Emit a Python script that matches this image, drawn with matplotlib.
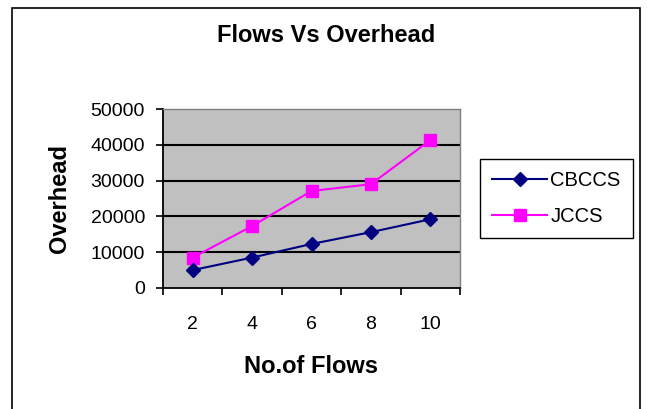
import matplotlib.pyplot as plt
from matplotlib.patches import Rectangle
import numpy as np

flows = ['2', '4', '6', '8', '10']
cbccs = [5000, 8500, 12300, 15600, 19200]
jccs = [8500, 17300, 27100, 29000, 41300]
yticks = [0, 10000, 20000, 30000, 40000, 50000]

plt.rcParams['font.family'] = ['Liberation Sans', 'DejaVu Sans']

fig = plt.figure(figsize=(6.47, 4.09), dpi=100)
ax = fig.add_axes([163/647, 121/409, 297/647, 179/409])
ax.set_facecolor('#c0c0c0')

x = np.arange(len(flows))
ax.plot(x, cbccs, color='#000080', marker='D', markersize=7.5, linewidth=1.5, label='CBCCS', zorder=4)
ax.plot(x, jccs, color='#ff00ff', marker='s', markersize=9, linewidth=1.5, label='JCCS', zorder=3)

ax.set_xlim(-0.5, len(flows) - 0.5)
ax.set_ylim(0, 50000)
ax.set_yticks(yticks)
ax.set_yticklabels([str(v) for v in yticks], fontsize=14)
for v in yticks[1:-1]:
    ax.axhline(v, color='black', linewidth=1.5, zorder=1)

# category ticks sit between the categories, labels at the centres
ax.set_xticks(np.arange(-0.5, len(flows)), labels=[''] * (len(flows) + 1))
ax.set_xticks(x, labels=flows, minor=True)
ax.tick_params(axis='x', which='minor', length=0, labelsize=14, pad=20)
ax.tick_params(axis='both', which='major', direction='out', length=5, width=1.2, color='black')
ax.tick_params(axis='y', labelsize=14, pad=8)

for s in ['top', 'right']:
    ax.spines[s].set_color('#808080')
    ax.spines[s].set_linewidth(1)
for s in ['left', 'bottom']:
    ax.spines[s].set_color('black')
    ax.spines[s].set_linewidth(1.3)

ax.set_xlabel('No.of Flows', fontsize=17, fontweight='bold', labelpad=16)
ax.set_ylabel('Overhead', fontsize=17, fontweight='bold', labelpad=14)
fig.text(326/647, 1 - 36/409, 'Flows Vs Overhead', fontsize=17, fontweight='bold',
         ha='center', va='center')

fig.legend(loc='upper left', bbox_to_anchor=(480/647, 1 - 159/409), fontsize=14.5,
           frameon=True, fancybox=False, edgecolor='black', framealpha=1,
           handlelength=2.75, borderpad=0.6, borderaxespad=0, labelspacing=0.85,
           handletextpad=0.15)

fig.patches.append(Rectangle((12/647, -0.05), 628/647, 1.05 - 8/409,
                             transform=fig.transFigure, fill=False,
                             edgecolor='black', linewidth=1.2))

fig.savefig('out.png', dpi=100)
